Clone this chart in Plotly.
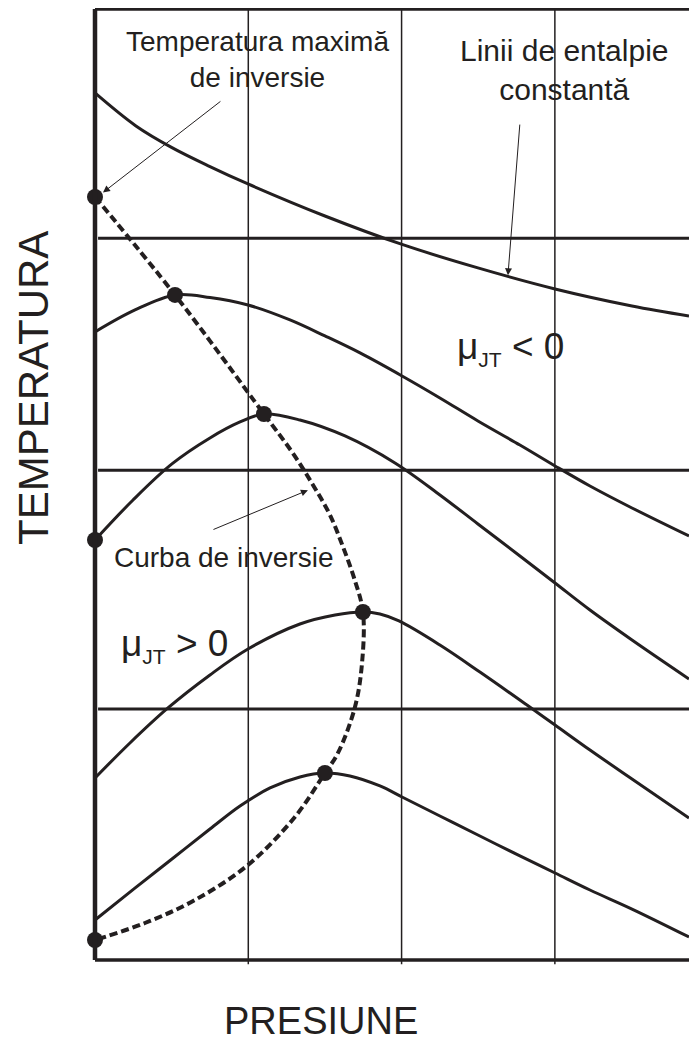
import plotly.graph_objects as go

INK = "#231f20"
FONT = "Liberation Sans, Arial, sans-serif"

# Isenthalpic curves (pressure, temperature) in arbitrary units
h1_p = [0.0, 0.267, 0.502, 0.750, 0.998, 1.500, 2.003, 2.498, 3.001, 3.503, 3.875]
h1_t = [91.17, 87.70, 85.42, 83.43, 81.60, 78.23, 75.24, 72.77, 70.56, 68.77, 67.72]

h2_p = [0.0, 0.261, 0.522, 0.750, 0.998, 1.272, 1.500, 1.729, 2.003, 2.250, 2.498,
        2.772, 3.001, 3.229, 3.503, 3.875]
h2_t = [66.04, 68.35, 69.93, 69.66, 68.87, 67.30, 65.62, 63.83, 61.41, 59.10, 56.68,
        54.15, 51.95, 49.84, 47.53, 44.58]

h3_p = [0.0, 0.248, 0.502, 0.750, 0.946, 1.102, 1.337, 1.631, 1.957, 2.250, 2.498,
        2.772, 3.001, 3.229, 3.503, 3.875]
h3_t = [44.16, 48.37, 52.16, 54.89, 56.57, 57.41, 56.78, 55.10, 52.26, 48.90, 45.85,
        42.48, 39.64, 36.80, 33.65, 29.55]

h4_p = [0.0, 0.228, 0.476, 0.750, 0.998, 1.337, 1.566, 1.748, 1.859, 1.983, 2.250,
        2.511, 2.818, 3.001, 3.229, 3.503, 3.875]
h4_t = [19.14, 22.82, 26.50, 29.97, 32.70, 35.33, 36.28, 36.59, 36.38, 35.65, 33.12,
        30.28, 26.81, 24.71, 22.08, 19.03, 14.93]

h5_p = [0.0, 0.254, 0.502, 0.750, 0.946, 1.142, 1.337, 1.500, 1.663, 1.859, 2.003,
        2.250, 2.498, 2.772, 3.001, 3.229, 3.503, 3.875]
h5_t = [4.21, 7.47, 10.62, 13.77, 16.19, 18.09, 19.24, 19.66, 19.35, 18.30, 17.14,
        15.14, 13.14, 10.94, 9.15, 7.36, 5.36, 2.42]

# Inversion curve (dashed)
inv_p = [0.0, 0.522, 1.102, 1.285, 1.422, 1.533, 1.618, 1.690, 1.748, 1.742, 1.696,
         1.585, 1.500, 1.304, 0.998, 0.652, 0.326, 0.0]
inv_t = [80.23, 69.93, 57.41, 53.42, 49.95, 46.79, 43.43, 40.17, 36.59, 31.23, 26.60,
         21.77, 19.66, 15.04, 9.99, 6.31, 3.89, 2.10]

# Marked points
dot_p = [0.0, 0.522, 1.102, 1.748, 1.500, 0.0, 0.0]
dot_t = [80.23, 69.93, 57.41, 36.59, 19.66, 2.10, 44.16]

# Isotherms (horizontal lines) and pressure grid
iso_t = [75.9, 51.5, 26.4]
grid_p = [1, 2, 3]

X_MIN, X_MAX = -0.0261, 3.875
Y_MIN, Y_MAX = -0.526, 100.1
TOP_T = 100.0

fig = go.Figure()

for px_, ty in [(h1_p, h1_t), (h2_p, h2_t), (h3_p, h3_t), (h4_p, h4_t), (h5_p, h5_t)]:
    fig.add_trace(go.Scatter(x=px_, y=ty, mode="lines",
                             line=dict(color=INK, width=3, shape="spline", smoothing=1.0),
                             hoverinfo="skip"))

fig.add_trace(go.Scatter(x=inv_p, y=inv_t, mode="lines",
                         line=dict(color=INK, width=4, dash="8px,4px", shape="spline", smoothing=1.0),
                         hoverinfo="skip"))

fig.add_trace(go.Scatter(x=dot_p, y=dot_t, mode="markers",
                         marker=dict(color=INK, size=16, line=dict(width=0)),
                         cliponaxis=False, hoverinfo="skip"))

shapes = []
for g in grid_p:
    shapes.append(dict(type="line", xref="x", yref="y", x0=g, x1=g, y0=-0.45, y1=TOP_T,
                       line=dict(color=INK, width=1.5), layer="below"))
for t in iso_t:
    shapes.append(dict(type="line", xref="x", yref="y", x0=0.02, x1=X_MAX, y0=t, y1=t,
                       line=dict(color=INK, width=3), layer="below"))
# frame: left axis, bottom axis, top border
shapes.append(dict(type="line", xref="x", yref="y", x0=0, x1=0, y0=0, y1=TOP_T,
                   line=dict(color=INK, width=4.5)))
shapes.append(dict(type="line", xref="x", yref="y", x0=0, x1=X_MAX, y0=0, y1=0,
                   line=dict(color=INK, width=3.5)))
shapes.append(dict(type="line", xref="x", yref="y", x0=0, x1=X_MAX, y0=TOP_T, y1=TOP_T,
                   line=dict(color=INK, width=3.5)))

annotations = [
    dict(x=1.063, y=94.7, text="Temperatura maximă<br>de inversie", showarrow=False,
         font=dict(size=28, color=INK, family=FONT), xanchor="center", yanchor="middle"),
    dict(x=3.06, y=93.6, text="Linii de entalpie<br>constantă", showarrow=False,
         font=dict(size=30, color=INK, family=FONT), xanchor="center", yanchor="middle"),
    dict(x=0.84, y=42.3, text="Curba de inversie", showarrow=False,
         font=dict(size=28, color=INK, family=FONT), xanchor="center", yanchor="middle"),
    dict(x=0.52, y=33.1,
         text="μ<sub><span style='font-size:21px'>JT</span></sub> &gt; 0", showarrow=False,
         font=dict(size=37, color=INK, family=FONT), xanchor="center", yanchor="middle"),
    dict(x=2.71, y=64.3,
         text="μ<sub><span style='font-size:21px'>JT</span></sub> &lt; 0", showarrow=False,
         font=dict(size=37, color=INK, family=FONT), xanchor="center", yanchor="middle"),
    dict(x=-0.0953, y=0.603, xref="paper", yref="paper", text="TEMPERATURA",
         showarrow=False, textangle=-90,
         font=dict(size=42, color=INK, family=FONT), xanchor="center", yanchor="middle"),
    dict(x=0.3846, y=-0.0585, xref="paper", yref="paper", text="PRESIUNE", showarrow=False,
         font=dict(size=38, color=INK, family=FONT), xanchor="center", yanchor="middle"),
    # pointer arrows
    dict(x=0.052, y=80.7, ax=0.828, ay=90.4, axref="x", ayref="y", text="", showarrow=True,
         arrowhead=2, arrowsize=1.4, arrowwidth=1, arrowcolor=INK, standoff=0),
    dict(x=2.694, y=72.0, ax=2.772, ay=88.0, axref="x", ayref="y", text="", showarrow=True,
         arrowhead=2, arrowsize=1.4, arrowwidth=1, arrowcolor=INK, standoff=0),
    dict(x=1.389, y=49.4, ax=0.763, ay=45.2, axref="x", ayref="y", text="", showarrow=True,
         arrowhead=2, arrowsize=1.4, arrowwidth=1, arrowcolor=INK, standoff=0),
]

fig.update_layout(
    width=689, height=1044,
    margin=dict(l=91, r=0, t=8, b=79),
    paper_bgcolor="white", plot_bgcolor="white",
    showlegend=False,
    shapes=shapes, annotations=annotations,
    xaxis=dict(range=[X_MIN, X_MAX], visible=False, fixedrange=True),
    yaxis=dict(range=[Y_MIN, Y_MAX], visible=False, fixedrange=True),
)

# Remove the browser's default page margin so the figure fills the window exactly.
fig.write_html(
    "out.html",
    config={"displayModeBar": False, "staticPlot": True},
    post_script="document.body.style.margin='0';"
                "document.documentElement.style.overflow='hidden';",
)
